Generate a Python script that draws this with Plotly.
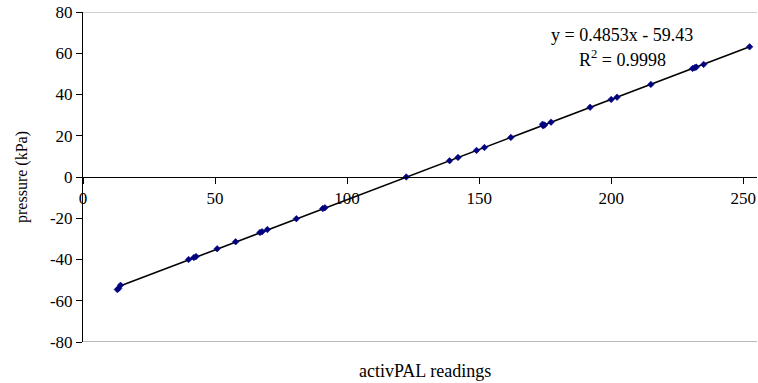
import numpy as np
import plotly.graph_objects as go

# activPAL readings (x) and pressure in kPa (y)
readings = [13.0, 13.5, 14.2, 40.0, 42.0, 42.8, 50.8, 57.8, 67.0, 67.8, 69.8, 80.8,
            90.8, 91.6, 122.4, 138.8, 142.0, 149.0, 152.0, 162.0, 174.0, 174.2,
            174.8, 177.2, 192.0, 200.0, 202.2, 215.0, 230.8, 231.6, 232.2, 235.0, 252.4]
pressure = [-54.6, -54.0, -52.5, -40.0, -39.05, -38.6, -34.8, -31.4, -26.9, -26.5, -25.5, -20.2,
            -15.3, -14.9, 0.0, 7.9, 9.5, 12.9, 14.3, 19.2, 25.6, 24.8,
            25.2, 26.6, 33.8, 37.6, 38.7, 44.9, 52.6, 53.0, 53.3, 54.6, 63.1]

x_ticks = [0, 50, 100, 150, 200, 250]
y_ticks = [-80, -60, -40, -20, 0, 20, 40, 60, 80]
y_ticklabels = ["-80", "-60", "-40", "-20", "0", "20", "40", "60", "80"]
x_title = "activPAL readings"
y_title = "pressure (kPa)"
eq_text = "y = 0.4853x - 59.43"
r2_text = "R<sup>2</sup> = 0.9998"

FONT = "Liberation Serif"

# linear trendline from the data
slope, intercept = np.polyfit(readings, pressure, 1)
tx = np.array([min(readings), max(readings)])
ty = slope * tx + intercept

fig = go.Figure()
fig.add_trace(go.Scatter(x=tx, y=ty, mode="lines",
                         line=dict(color="black", width=1.6),
                         hoverinfo="skip", showlegend=False))
fig.add_trace(go.Scatter(x=readings, y=pressure, mode="markers",
                         marker=dict(symbol="diamond", size=5, color="#000080",
                                     line=dict(width=0.6, color="#000080")),
                         showlegend=False))

fig.update_layout(
    width=758, height=383,
    margin=dict(l=83, r=1, t=12, b=41),
    paper_bgcolor="white", plot_bgcolor="white",
    font=dict(family=FONT, size=16, color="black"),
    xaxis=dict(range=[0, 255.2], tickvals=x_ticks, showgrid=False, zeroline=False,
               showline=True, linecolor="black", linewidth=1,
               ticks="outside", ticklen=6, tickcolor="black",
               anchor="free", position=0.5,
               tickfont=dict(family=FONT, size=17, color="black")),
    yaxis=dict(range=[-80, 80], tickvals=y_ticks, ticktext=y_ticklabels,
               showgrid=False, zeroline=False,
               showline=True, linecolor="black", linewidth=1,
               ticks="outside", ticklen=6, tickcolor="black",
               tickfont=dict(family=FONT, size=17, color="black")),
    shapes=[
        dict(type="line", xref="paper", yref="y", x0=0, x1=1, y0=80, y1=80,
             line=dict(color="#a0a0a0", width=1.2), layer="below"),
        dict(type="line", xref="paper", yref="y", x0=0, x1=1, y0=-80, y1=-80,
             line=dict(color="#a0a0a0", width=1.5), layer="below"),
    ],
    annotations=[
        dict(text=eq_text, xref="paper", yref="paper", x=(622 - 83) / 674, y=(342 - 35) / 330,
             showarrow=False, xanchor="center", yanchor="middle",
             font=dict(family=FONT, size=18, color="black")),
        dict(text=r2_text, xref="paper", yref="paper", x=(622 - 83) / 674, y=(342 - 58) / 330,
             showarrow=False, xanchor="center", yanchor="middle",
             font=dict(family=FONT, size=18, color="black")),
        dict(text=x_title, xref="paper", yref="paper", x=(425 - 83) / 674, y=(342 - 371) / 330,
             showarrow=False, xanchor="center", yanchor="middle",
             font=dict(family=FONT, size=18, color="black")),
        dict(text=y_title, xref="paper", yref="paper", x=(22 - 83) / 674, y=0.5,
             showarrow=False, xanchor="center", yanchor="middle", textangle=-90,
             font=dict(family=FONT, size=16, color="black")),
    ],
)

fig.write_html("out.html")
